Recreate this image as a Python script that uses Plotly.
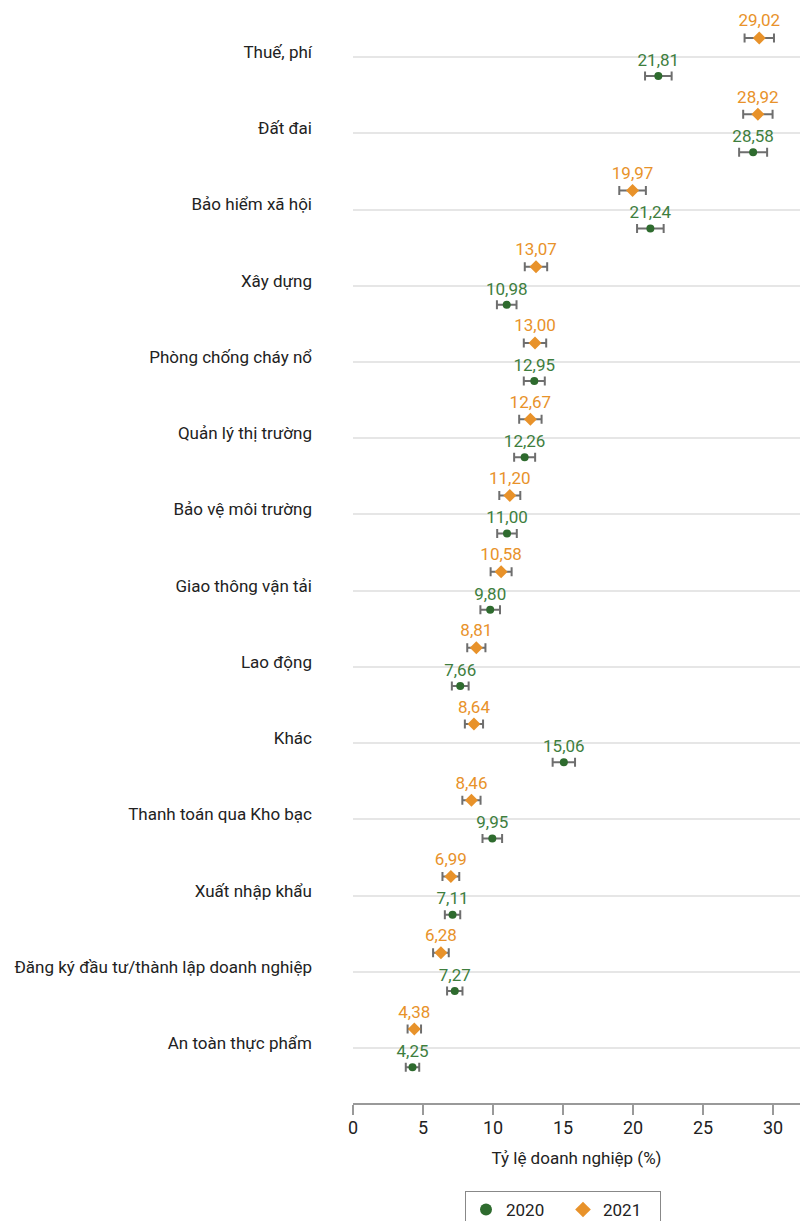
import plotly.graph_objects as go

categories = ["Thuế, phí", "Đất đai", "Bảo hiểm xã hội", "Xây dựng", "Phòng chống cháy nổ",
              "Quản lý thị trường", "Bảo vệ môi trường", "Giao thông vận tải", "Lao động", "Khác",
              "Thanh toán qua Kho bạc", "Xuất nhập khẩu", "Đăng ký đầu tư/thành lập doanh nghiệp",
              "An toàn thực phẩm"]
values_2020 = [21.81, 28.58, 21.24, 10.98, 12.95, 12.26, 11.00, 9.80, 7.66, 15.06, 9.95, 7.11, 7.27, 4.25]
values_2021 = [29.02, 28.92, 19.97, 13.07, 13.00, 12.67, 11.20, 10.58, 8.81, 8.64, 8.46, 6.99, 6.28, 4.38]
err_2020 = [0.95, 1.00, 0.95, 0.70, 0.75, 0.75, 0.70, 0.70, 0.60, 0.80, 0.70, 0.55, 0.55, 0.48]
err_2021 = [1.05, 1.05, 0.95, 0.80, 0.80, 0.80, 0.75, 0.75, 0.65, 0.65, 0.65, 0.60, 0.56, 0.48]
x_ticks = [0, 5, 10, 15, 20, 25, 30]

GREEN = "#2e6b2e"
GREEN_TXT = "#3e7e3e"
ORANGE = "#e8922a"
GRAY = "#6e6e6e"
FONT = "Roboto, sans-serif"

idx = list(range(len(categories)))

def fmt(v):
    return f"{v:.2f}".replace(".", ",")

fig = go.Figure()
fig.add_trace(go.Scatter(
    x=values_2020, y=[i + 0.25 for i in idx], mode="markers+text", name="2020",
    marker=dict(symbol="circle", size=8, color=GREEN),
    text=[fmt(v) for v in values_2020], textposition="top center",
    textfont=dict(family=FONT, size=17, color=GREEN_TXT),
    error_x=dict(type="data", array=err_2020, color=GRAY, thickness=2, width=4.5),
    cliponaxis=False,
))
fig.add_trace(go.Scatter(
    x=values_2021, y=[i - 0.25 for i in idx], mode="markers+text", name="2021",
    marker=dict(symbol="diamond", size=10, color=ORANGE),
    text=[fmt(v) for v in values_2021], textposition="top center",
    textfont=dict(family=FONT, size=17, color=ORANGE),
    error_x=dict(type="data", array=err_2021, color=GRAY, thickness=2, width=4.5),
    cliponaxis=False,
))

fig.update_layout(
    width=800, height=1221,
    margin=dict(l=353, r=0, t=0, b=118, autoexpand=False),
    plot_bgcolor="white", paper_bgcolor="white",
    font=dict(family=FONT, size=17, color="#222"),
    showlegend=True,
    legend=dict(orientation="h", x=563 / 800, xref="container", xanchor="center",
                y=1 - 1191 / 1221, yref="container", yanchor="top",
                bordercolor="#888", borderwidth=1, font=dict(size=17, color="#222"),
                entrywidth=52, itemsizing="constant"),
    xaxis=dict(range=[0, 447 / 14], tickvals=x_ticks, showgrid=False, zeroline=False,
               showline=True, linecolor="#999", linewidth=1.5, ticks="outside", ticklen=10,
               tickcolor="#999", tickwidth=1.5, tickfont=dict(size=18, color="#222"),
               automargin=False, ticklabelstandoff=-2,
               title=dict(text="Tỷ lệ doanh nghiệp (%)", font=dict(size=17, color="#222"), standoff=15)),
    yaxis=dict(range=[13.72, -0.748], tickvals=idx, ticktext=categories, showgrid=True,
               gridcolor="#e6e6e6", gridwidth=2, zeroline=False, showline=False, ticks="",
               automargin=False, ticklabelshift=5,
               ticklabelstandoff=40, tickfont=dict(size=17, color="#222")),
)

fig.write_html("out.html", config={"displayModeBar": False},
               post_script="document.body.style.margin='0';")
